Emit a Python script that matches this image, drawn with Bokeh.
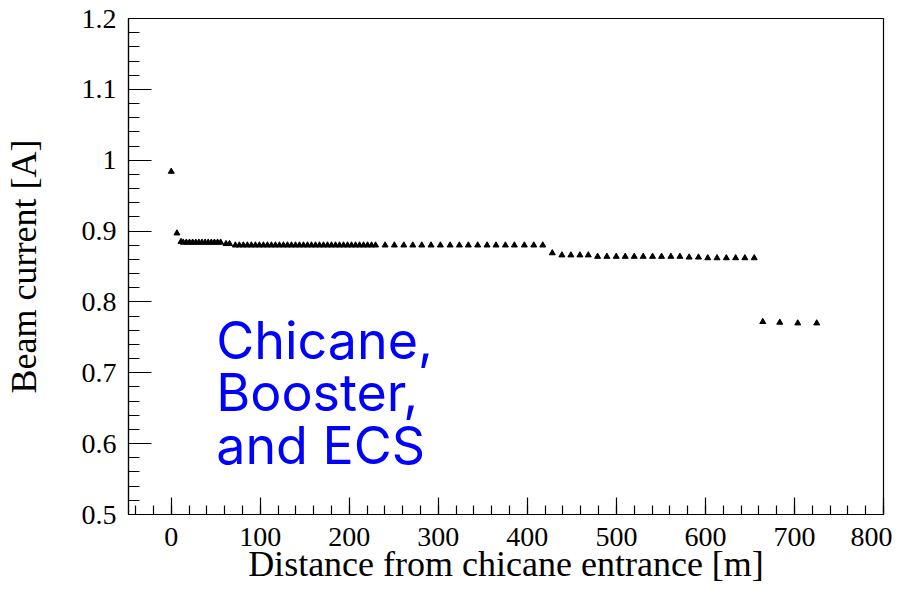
from bokeh.plotting import figure
from bokeh.models import Range1d, FixedTicker, Label, ColumnDataSource
from bokeh.embed import file_html
from bokeh.resources import INLINE

# distance from chicane entrance [m]
distance = [
    0.0, 6.4, 11.0,
    13.5, 17.0, 20.5, 24.0, 27.5, 31.0, 34.5, 38.0, 41.5, 45.0, 48.5, 52.0, 55.5,
    61.5, 65.5,
    72.0, 76.5, 81.0, 85.5, 90.0, 94.5, 99.0, 103.5, 108.0, 112.5, 117.0, 121.5,
    126.0, 130.5, 135.0, 139.5, 144.0, 148.5, 153.0, 157.5, 162.0, 166.5, 171.0,
    175.5, 180.0, 184.5, 189.0, 193.5, 198.0, 202.5, 207.0, 211.5, 216.0, 220.5,
    225.0, 229.5,
    240.2, 250.6, 261.2, 271.3, 281.4, 291.8, 302.3, 313.2, 323.6, 333.7, 344.2,
    354.7, 364.8, 375.3, 385.4, 396.6, 407.2, 417.3,
    428.0, 438.8, 448.9, 459.0, 468.4,
    478.9, 489.3, 499.8, 509.9, 520.0, 530.1, 540.6, 550.7, 561.2, 571.3,
    581.7, 592.2, 602.6, 613.0, 623.5, 633.9, 644.3, 654.8,
    664.4, 683.5, 703.7, 725.0,
]

# beam current [A]
current = [
    0.984, 0.897, 0.885,
    0.884, 0.884, 0.884, 0.884, 0.884, 0.884, 0.884, 0.884, 0.884, 0.884, 0.884, 0.884, 0.884,
    0.882, 0.882,
    0.880, 0.880, 0.880, 0.880, 0.880, 0.880, 0.880, 0.880, 0.880, 0.880, 0.880, 0.880,
    0.880, 0.880, 0.880, 0.880, 0.880, 0.880, 0.880, 0.880, 0.880, 0.880, 0.880,
    0.880, 0.880, 0.880, 0.880, 0.880, 0.880, 0.880, 0.880, 0.880, 0.880, 0.880,
    0.880, 0.880,
    0.880, 0.880, 0.880, 0.880, 0.880, 0.880, 0.880, 0.880, 0.880, 0.880, 0.880,
    0.880, 0.880, 0.880, 0.880, 0.880, 0.880, 0.880,
    0.869, 0.866, 0.866, 0.866, 0.866,
    0.864, 0.864, 0.864, 0.864, 0.864, 0.864, 0.864, 0.864, 0.864, 0.864,
    0.863, 0.863, 0.862, 0.862, 0.862, 0.862, 0.862, 0.862,
    0.772, 0.771, 0.770, 0.770,
]

x_ticks = [0, 100, 200, 300, 400, 500, 600, 700, 800]
x_tick_labels = ["0", "100", "200", "300", "400", "500", "600", "700", "800"]
x_minor_ticks = [-40, -20, 0, 20, 40, 60, 80, 100, 120, 140, 160, 180, 200, 220, 240,
                 260, 280, 300, 320, 340, 360, 380, 400, 420, 440, 460, 480, 500,
                 520, 540, 560, 580, 600, 620, 640, 660, 680, 700, 720, 740, 760,
                 780, 800]
y_ticks = [0.5, 0.6, 0.7, 0.8, 0.9, 1.0, 1.1, 1.2]
y_tick_labels = ["0.5", "0.6", "0.7", "0.8", "0.9", "1", "1.1", "1.2"]
y_minor_ticks = [0.52, 0.54, 0.56, 0.58, 0.62, 0.64, 0.66, 0.68, 0.72, 0.74, 0.76,
                 0.78, 0.82, 0.84, 0.86, 0.88, 0.92, 0.94, 0.96, 0.98, 1.02, 1.04,
                 1.06, 1.08, 1.12, 1.14, 1.16, 1.18]

x_title = "Distance from chicane entrance [m]"
y_title = "Beam current [A]"
note_lines = ["Chicane,", "Booster,", "and ECS"]

SERIF = "Liberation Serif"

p = figure(width=892, height=586,
           x_range=Range1d(-48, 800), y_range=Range1d(0.5, 1.2),
           output_backend="svg", toolbar_location=None,
           min_border_left=127, min_border_right=9,
           min_border_top=18, min_border_bottom=69,
           background_fill_color="white", border_fill_color="white")

p.xgrid.visible = False
p.ygrid.visible = False
p.outline_line_color = "black"
p.outline_line_width = 1.2
p.outline_line_alpha = 1.0

# x axis
xa = p.xaxis[0]
xa.ticker = FixedTicker(ticks=x_ticks, minor_ticks=x_minor_ticks)
xa.major_label_overrides = {t: l for t, l in zip(x_ticks, x_tick_labels)}
xa.major_tick_in = 17
xa.major_tick_out = 0
xa.minor_tick_in = 9
xa.minor_tick_out = 0
xa.axis_line_color = "black"
xa.axis_line_width = 1.2
xa.major_tick_line_color = "black"
xa.major_tick_line_width = 1.2
xa.minor_tick_line_color = "black"
xa.minor_tick_line_width = 1.2
xa.major_label_text_font = SERIF
xa.major_label_text_font_size = "28px"
xa.major_label_text_color = "black"
xa.major_label_standoff = 13
xa.axis_label = x_title
xa.axis_label_text_font = SERIF
xa.axis_label_text_font_size = "36px"
xa.axis_label_text_font_style = "normal"
xa.axis_label_text_color = "black"
xa.axis_label_standoff = -5

# y axis
ya = p.yaxis[0]
ya.ticker = FixedTicker(ticks=y_ticks, minor_ticks=y_minor_ticks)
ya.major_label_overrides = {t: l for t, l in zip(y_ticks, y_tick_labels)}
ya.major_tick_in = 23
ya.major_tick_out = 0
ya.minor_tick_in = 11
ya.minor_tick_out = 0
ya.axis_line_color = "black"
ya.axis_line_width = 1.2
ya.major_tick_line_color = "black"
ya.major_tick_line_width = 1.2
ya.minor_tick_line_color = "black"
ya.minor_tick_line_width = 1.2
ya.major_label_text_font = SERIF
ya.major_label_text_font_size = "28px"
ya.major_label_text_color = "black"
ya.major_label_standoff = 12
ya.axis_label = y_title
ya.axis_label_text_font = SERIF
ya.axis_label_text_font_size = "36px"
ya.axis_label_text_font_style = "normal"
ya.axis_label_text_color = "black"
ya.axis_label_standoff = 35

src = ColumnDataSource(dict(x=distance, y=current))
p.scatter("x", "y", source=src, marker="triangle", size=6,
          fill_color="black", line_color="black")

for line, yy in zip(note_lines, [0.7449, 0.6718, 0.5972]):
    p.add_layout(Label(x=50.5, y=yy, text=line, text_align="left",
                       text_baseline="alphabetic", text_font="Inter",
                       text_font_size="52px", text_color="#0000ff"))

open("out.html", "w").write(file_html(p, INLINE))
